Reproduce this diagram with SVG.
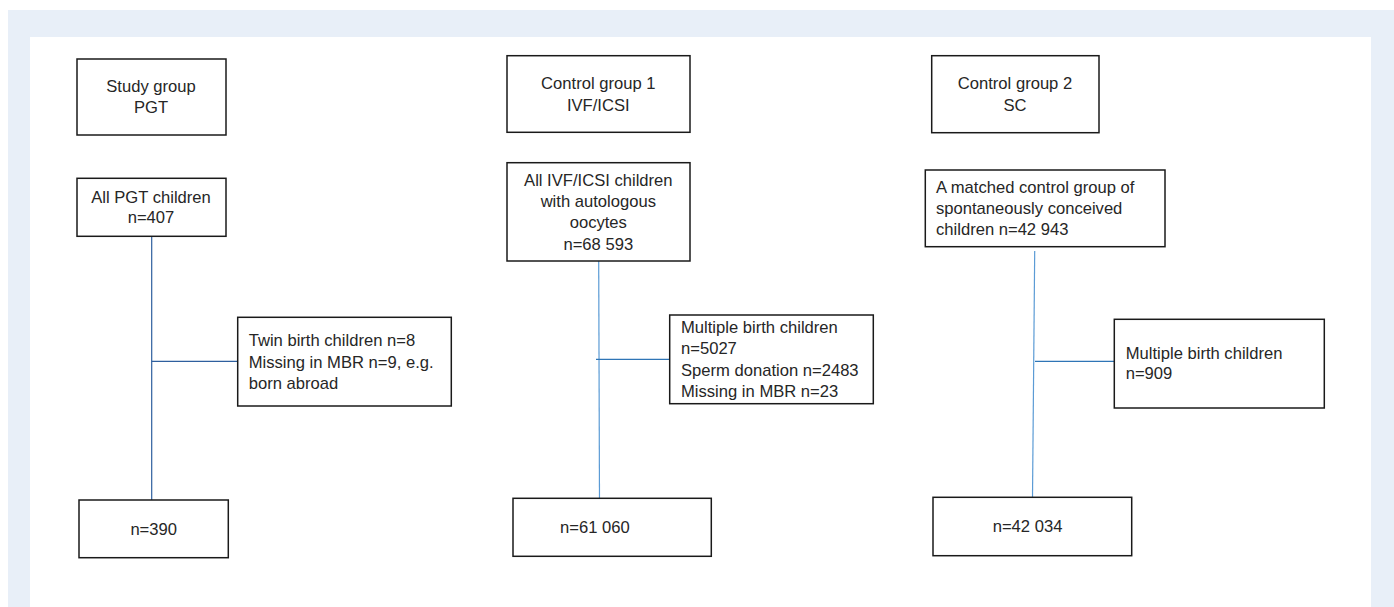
<svg xmlns="http://www.w3.org/2000/svg" width="1394" height="607" viewBox="0 0 1394 607">
<style>
.box{fill:#fff;stroke:#1a1a1a;stroke-width:1.5}
text{font-family:"Liberation Sans",Arial,sans-serif;font-size:16.6px;fill:#262626}
.c{text-anchor:middle}
.l1{stroke:#2e5f9e;stroke-width:1.2;fill:none}
.l2{stroke:#5b9bd5;stroke-width:1.2;fill:none}
.l2b{stroke:#2e75b6;stroke-width:1.2;fill:none}
</style>
<rect x="0" y="0" width="1394" height="607" fill="#fff"/>
<rect x="8" y="10" width="1386" height="597" fill="#e8eff8"/>
<rect x="30" y="37" width="1341" height="570" fill="#fff"/>
<g id="connectors">
<line class="l1" x1="151.7" y1="236" x2="151.7" y2="500"/>
<line class="l1" x1="151.7" y1="361.3" x2="237.7" y2="361.3"/>
<line class="l2" x1="598.7" y1="261" x2="599.5" y2="502"/>
<line class="l2b" x1="596" y1="359.3" x2="669.7" y2="359.3"/>
<line class="l2" x1="1034.7" y1="251" x2="1032.5" y2="497"/>
<line class="l2b" x1="1035" y1="361.3" x2="1114.3" y2="361.3"/>
</g>
<g id="study-group">
<rect class="box" x="77" y="59" width="149" height="76"/>
<text class="c" x="151" y="92">Study group</text>
<text class="c" x="151" y="113">PGT</text>
</g>
<g id="all-pgt">
<rect class="box" x="77" y="178.3" width="149" height="58"/>
<text class="c" x="151" y="202.7">All PGT children</text>
<text class="c" x="151" y="223.3">n=407</text>
</g>
<g id="pgt-excl">
<rect class="box" x="237.7" y="317.3" width="213.6" height="88.7"/>
<text x="248.7" y="346">Twin birth children n=8</text>
<text x="248.7" y="367.7">Missing in MBR n=9, e.g.</text>
<text x="248.7" y="388.7">born abroad</text>
</g>
<g id="pgt-final">
<rect class="box" x="79" y="500" width="149.3" height="57.7"/>
<text class="c" x="153.7" y="535">n=390</text>
</g>
<g id="control1">
<rect class="box" x="507" y="55.7" width="183" height="76.6"/>
<text class="c" x="598.3" y="89.3">Control group 1</text>
<text class="c" x="598.3" y="111">IVF/ICSI</text>
</g>
<g id="all-ivf">
<rect class="box" x="507" y="162.7" width="183" height="98.3"/>
<text class="c" x="598.3" y="186">All IVF/ICSI children</text>
<text class="c" x="598.3" y="207.3">with autologous</text>
<text class="c" x="598.3" y="228.3">oocytes</text>
<text class="c" x="598.3" y="250">n=68 593</text>
</g>
<g id="ivf-excl">
<rect class="box" x="669.7" y="315" width="203.6" height="88.7"/>
<text x="681" y="333.3">Multiple birth children</text>
<text x="681" y="354.3">n=5027</text>
<text x="681" y="375.7">Sperm donation n=2483</text>
<text x="681" y="396.7">Missing in MBR n=23</text>
</g>
<g id="ivf-final">
<rect class="box" x="513" y="498.3" width="198.3" height="58"/>
<text x="560" y="532.7">n=61 060</text>
</g>
<g id="control2">
<rect class="box" x="931.7" y="55.7" width="167.3" height="77"/>
<text class="c" x="1015" y="89.3">Control group 2</text>
<text class="c" x="1015" y="111">SC</text>
</g>
<g id="matched-sc">
<rect class="box" x="925.3" y="170" width="239.7" height="76.7"/>
<text x="936" y="192.7">A matched control group of</text>
<text x="936" y="213.7">spontaneously conceived</text>
<text x="936" y="234.7">children n=42 943</text>
</g>
<g id="sc-excl">
<rect class="box" x="1114.3" y="319.3" width="210" height="88.7"/>
<text x="1125.7" y="358.7">Multiple birth children</text>
<text x="1125.7" y="379.3">n=909</text>
</g>
<g id="sc-final">
<rect class="box" x="933" y="497.3" width="198.7" height="58.4"/>
<text x="992.7" y="531.7">n=42 034</text>
</g>
</svg>
